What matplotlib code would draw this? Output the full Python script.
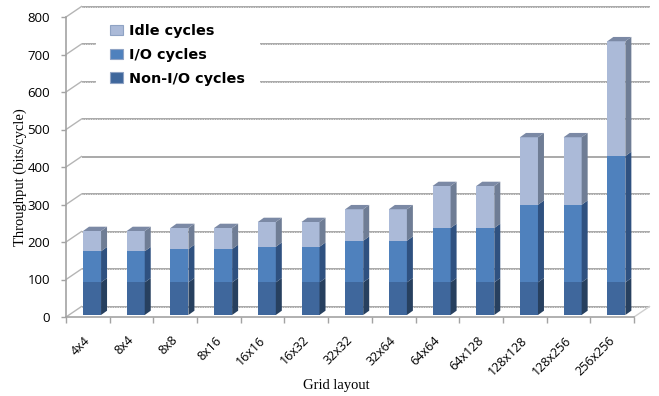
import numpy as np
import matplotlib
matplotlib.use("Agg")
import matplotlib.pyplot as plt
from matplotlib.patches import Patch
from matplotlib.transforms import ScaledTranslation

layouts = ["4x4", "8x4", "8x8", "8x16", "16x16", "16x32", "32x32", "32x64",
           "64x64", "64x128", "128x128", "128x256", "256x256"]
non_io = np.array([87, 87, 87, 87, 87, 87, 87, 87, 87, 87, 87, 87, 87])
io = np.array([83, 83, 89, 89, 95, 95, 111, 111, 145, 145, 207, 207, 337])
idle = np.array([54, 54, 56, 56, 66, 66, 84, 84, 112, 112, 180, 180, 306])
y_ticks = [0, 100, 200, 300, 400, 500, 600, 700, 800]

W, H = 659, 396
GRID = "#a3a3a3"

fig = plt.figure(figsize=(W / 100, H / 100), dpi=100)
ax = fig.add_axes([66 / W, (H - 317) / H, 568 / W, 300 / H])
ax.set_xlim(-0.5, 12.5)
ax.set_ylim(0, 800)

# sizes of the fake 3d box, in data units
px_x = 13 / 568
px_y = 800 / 300
wall_dx, wall_dy = 15.5 * px_x, 10.5 * px_y
bar_dx, bar_dy = 6 * px_x, 4.3 * px_y
shift_x, lift = 4.2 * px_x, 2 * px_y
bar_w = 18 * px_x

# back wall and the diagonals that join it to the axis
for v in y_ticks:
    ax.plot([-0.5 + wall_dx, 12.5 + wall_dx], [v + wall_dy, v + wall_dy],
            color=GRID, lw=1.3, clip_on=False, zorder=1, solid_capstyle="butt")
    if v != 400:
        ax.plot([-0.5 + wall_dx, 12.5 + wall_dx], [v + wall_dy, v + wall_dy],
                color="#e4e4e4", lw=0.7, ls=(0, (1, 1.5)), clip_on=False, zorder=1.1)
    ax.plot([-0.5, -0.5 + wall_dx], [v, v + wall_dy], color="#b5b5b5", lw=1,
            clip_on=False, zorder=1)
ax.plot([12.5, 12.5 + wall_dx], [0, wall_dy], color="#cfcfcf", lw=1, clip_on=False, zorder=1)

x = np.arange(len(layouts)) + shift_x
series = [
    ("Non-I/O cycles", non_io, "#3f679c", "#27405f", "#27405f"),
    ("I/O cycles", io, "#4f81bd", "#2f5180", "#2f5180"),
    ("Idle cycles", idle, "#abbad8", "#6f7d95", "#7b89a5"),
]

bottom = np.full(len(layouts), lift, dtype=float)
for name, vals, front, side, top in series:
    ax.bar(x, vals, bar_w, bottom=bottom, color=front, zorder=3, clip_on=False)
    for xi, b, v in zip(x, bottom, vals):
        r = xi + bar_w / 2
        ax.fill([r, r + bar_dx, r + bar_dx, r],
                [b, b + bar_dy, b + v + bar_dy, b + v],
                color=side, lw=0, zorder=3, clip_on=False)
    bottom = bottom + vals

# caps on the full stacks
for xi, b in zip(x, bottom):
    l, r = xi - bar_w / 2, xi + bar_w / 2
    ax.fill([l, l + bar_dx, r + bar_dx, r], [b, b + bar_dy, b + bar_dy, b],
            color=series[-1][4], lw=0, zorder=3, clip_on=False)

ax.spines["top"].set_visible(False)
ax.spines["right"].set_visible(False)
ax.spines["left"].set_color(GRID)
ax.spines["bottom"].set_color(GRID)
ax.spines["left"].set_linewidth(1.2)
ax.spines["bottom"].set_linewidth(1.2)

ax.set_yticks(y_ticks)
ax.tick_params(axis="y", length=3.5, width=1, color=GRID, pad=8, labelsize=9.5)
for lab in ax.get_yticklabels():
    lab.set_fontfamily("Open Sans")

ax.set_xticks(np.arange(-0.5, 13, 1))
ax.set_xticklabels([])
ax.tick_params(axis="x", which="major", length=4, width=1, color=GRID)
ax.set_xticks(np.arange(13), minor=True)
ax.set_xticklabels(layouts, minor=True, rotation=45, ha="right", rotation_mode="anchor",
                   fontfamily="Open Sans", fontsize=9)
ax.tick_params(axis="x", which="minor", length=0, pad=12)
nudge = ScaledTranslation(-4 / 100, 0, fig.dpi_scale_trans)
for lab in ax.get_xticklabels(minor=True):
    lab.set_transform(lab.get_transform() + nudge)

fig.text(336 / W, (H - 386) / H, "Grid layout", family="Liberation Serif", fontsize=10.5,
         ha="center", va="center")
fig.text(20 / W, (H - 177) / H, "Throughput (bits/cycle)", family="Liberation Serif",
         fontsize=10.5, rotation=90, ha="center", va="center")

handles = [Patch(facecolor=s[2], edgecolor="#8fa3c4", lw=0.8, label=s[0]) for s in series[::-1]]
leg = ax.legend(handles=handles, loc="upper left", bbox_to_anchor=(30 / 568, 1 + 7 / 300),
                frameon=True, framealpha=1, facecolor="white", edgecolor="none",
                fancybox=False, borderaxespad=0, borderpad=1.0, labelspacing=0.66,
                handlelength=0.85, handleheight=0.7, handletextpad=0.45,
                prop={"family": "DejaVu Sans", "weight": "bold", "size": 10.4})
leg.set_zorder(2)

fig.savefig("out.png", dpi=100, facecolor="white")
